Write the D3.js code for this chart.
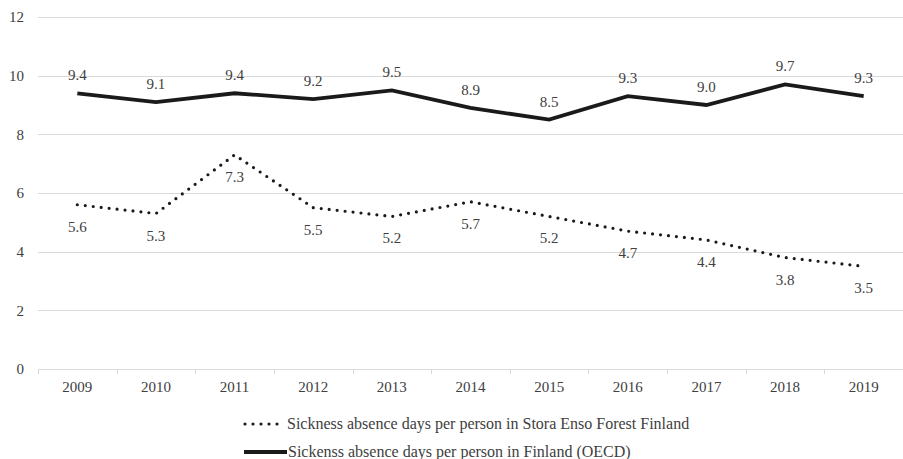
<!DOCTYPE html>
<html>
<head>
<meta charset="utf-8">
<script src="https://cdn.jsdelivr.net/npm/d3@7"></script>
<style>
  html, body { margin: 0; padding: 0; background: #fff; }
  svg { display: block; }
  svg text { font-family: "Liberation Serif", "Tinos", "Times New Roman", "Nimbus Roman", "DejaVu Serif", serif !important; }
</style>
</head>
<body>
<svg id="chart" width="903" height="459"></svg>
<script>
// Sickness absence days per person, 2009–2019
const years = ["2009", "2010", "2011", "2012", "2013", "2014", "2015", "2016", "2017", "2018", "2019"];
const storaEnso = [5.6, 5.3, 7.3, 5.5, 5.2, 5.7, 5.2, 4.7, 4.4, 3.8, 3.5];
const finlandOECD = [9.4, 9.1, 9.4, 9.2, 9.5, 8.9, 8.5, 9.3, 9.0, 9.7, 9.3];
const yTicks = [0, 2, 4, 6, 8, 10, 12];
const legendLabels = [
  "Sickness absence days per person in Stora Enso Forest Finland",
  "Sickenss absence days per person in Finland (OECD)"
];

(function () {
  const serif = "'Liberation Serif', Tinos, 'Times New Roman', 'Nimbus Roman', 'DejaVu Serif', serif";
  const svg = d3.select("#chart").attr("font-family", serif);
  const plotLeft = 38, plotRight = 903, plotTop = 17, plotBottom = 369;
  const textColor = "#404040";
  const lineColor = "#1a1a1a";
  const gridColor = "#d9d9d9";

  const x = d3.scaleBand().domain(years).range([plotLeft, plotRight]).paddingInner(0).paddingOuter(0);
  const y = d3.scaleLinear().domain([0, 12]).range([plotBottom, plotTop]);
  const cx = d => x(d) + x.bandwidth() / 2;

  // horizontal gridlines
  svg.append("g")
    .selectAll("line")
    .data(yTicks.filter(t => t > 0))
    .join("line")
    .attr("x1", plotLeft).attr("x2", plotRight)
    .attr("y1", d => Math.round(y(d)) + 0.5).attr("y2", d => Math.round(y(d)) + 0.5)
    .attr("stroke", gridColor).attr("stroke-width", 1);

  // y axis labels
  const yAxis = svg.append("g")
    .attr("transform", `translate(${plotLeft},0)`)
    .call(d3.axisLeft(y).tickValues(yTicks).tickSize(0).tickPadding(14))
    .attr("font-family", serif).attr("font-size", 15);
  yAxis.select(".domain").remove();
  yAxis.selectAll("text").attr("fill", textColor);

  // x axis with category boundary ticks
  const xAxis = svg.append("g")
    .attr("transform", `translate(0,${plotBottom})`)
    .call(d3.axisBottom(x).tickSize(0).tickPadding(12))
    .attr("font-family", serif).attr("font-size", 15);
  xAxis.select(".domain").attr("stroke", gridColor).attr("d", `M${plotLeft},0.5H${plotRight}`);
  xAxis.selectAll("text").attr("fill", textColor);
  const boundaries = years.map(d => x(d)).concat([plotRight]);
  xAxis.append("g")
    .selectAll("line")
    .data(boundaries)
    .join("line")
    .attr("x1", d => Math.round(d) + 0.5).attr("x2", d => Math.round(d) + 0.5)
    .attr("y1", 0).attr("y2", 5)
    .attr("stroke", gridColor);

  const line = d3.line().x((d, i) => cx(years[i])).y(d => y(d));

  // Stora Enso series (dotted)
  svg.append("path")
    .datum(storaEnso)
    .attr("d", line)
    .attr("fill", "none")
    .attr("stroke", lineColor)
    .attr("stroke-width", 3.2)
    .attr("stroke-linecap", "round")
    .attr("stroke-dasharray", "0 8");

  // Finland OECD series (solid)
  svg.append("path")
    .datum(finlandOECD)
    .attr("d", line)
    .attr("fill", "none")
    .attr("stroke", lineColor)
    .attr("stroke-width", 3.8)
    .attr("stroke-linejoin", "miter");

  // value labels
  svg.append("g")
    .selectAll("text")
    .data(finlandOECD)
    .join("text")
    .attr("x", (d, i) => cx(years[i]))
    .attr("y", d => y(d) - 13)
    .attr("text-anchor", "middle")
    .attr("fill", textColor)
    .attr("font-size", 15)
    .text(d => d.toFixed(1));

  svg.append("g")
    .selectAll("text")
    .data(storaEnso)
    .join("text")
    .attr("x", (d, i) => cx(years[i]))
    .attr("y", d => y(d) + 27)
    .attr("text-anchor", "middle")
    .attr("fill", textColor)
    .attr("font-size", 15)
    .text(d => d.toFixed(1));

  // legend
  const legend = svg.append("g");
  legend.append("line")
    .attr("x1", 245).attr("x2", 281).attr("y1", 424).attr("y2", 424)
    .attr("stroke", lineColor).attr("stroke-width", 3.2)
    .attr("stroke-linecap", "round").attr("stroke-dasharray", "0 8");
  legend.append("text")
    .attr("x", 287).attr("y", 428.5)
    .attr("fill", textColor).attr("font-size", 16)
    .text(legendLabels[0]);
  legend.append("line")
    .attr("x1", 244).attr("x2", 287).attr("y1", 452).attr("y2", 452)
    .attr("stroke", lineColor).attr("stroke-width", 3.8);
  legend.append("text")
    .attr("x", 288).attr("y", 456.5)
    .attr("fill", textColor).attr("font-size", 16)
    .text(legendLabels[1]);
})();
</script>
</body>
</html>
